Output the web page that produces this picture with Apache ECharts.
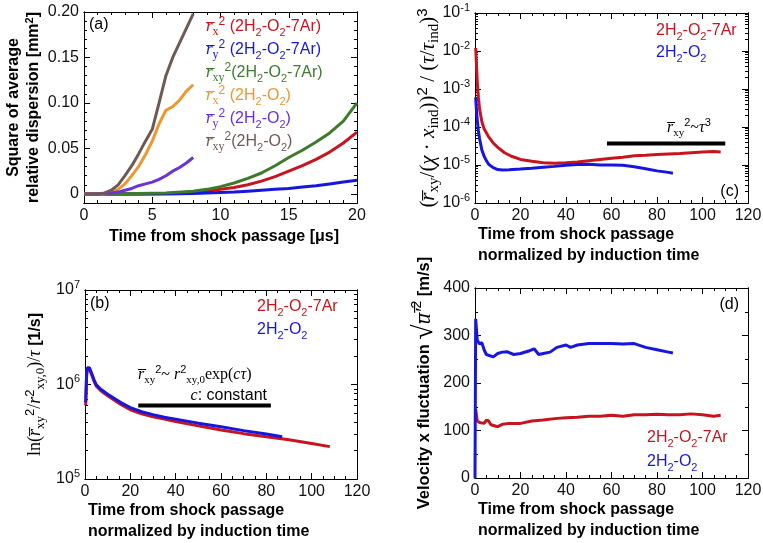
<!DOCTYPE html>
<html><head><meta charset="utf-8">
<script src="https://cdn.jsdelivr.net/npm/echarts@6/dist/echarts.min.js"></script>
<style>html,body{margin:0;padding:0;background:#fff}#c{width:763px;height:543px}</style>
</head><body><div id="c"></div>
<script>
// ---------------- DATA ----------------
// Panel (a): square of average relative dispersion [mm^2] vs time [us]
const tA_O2   = [0, 1, 1.5, 2, 2.5, 3, 3.5, 4, 4.5, 5, 5.5, 6, 6.5, 7, 7.5, 8];
const rxyA_O2 = [0, 0, 0.001, 0.004, 0.01, 0.02, 0.031, 0.044, 0.058, 0.071, 0.1, 0.13, 0.15, 0.166, 0.182, 0.198];
const rxA_O2  = [0, 0, 0, 0.002, 0.005, 0.011, 0.02, 0.03, 0.043, 0.058, 0.077, 0.092, 0.096, 0.103, 0.113, 0.12];
const ryA_O2  = [0, 0, 0.0005, 0.001, 0.002, 0.004, 0.006, 0.009, 0.011, 0.013, 0.016, 0.02, 0.025, 0.029, 0.034, 0.04];
const tA_Ar   = [0, 2, 4, 6, 8, 9, 10, 11, 12, 13, 14, 15, 16, 17, 18, 19, 20];
const rxyA_Ar = [0, 0, 0.0005, 0.001, 0.003, 0.005, 0.008, 0.012, 0.017, 0.023, 0.031, 0.04, 0.048, 0.057, 0.067, 0.08, 0.1];
const rxA_Ar  = [0, 0, 0, 0.0005, 0.002, 0.003, 0.005, 0.007, 0.01, 0.014, 0.019, 0.025, 0.031, 0.038, 0.046, 0.056, 0.068];
const ryA_Ar  = [0, 0, 0, 0, 0.0005, 0.001, 0.0015, 0.002, 0.003, 0.004, 0.005, 0.006, 0.0075, 0.009, 0.011, 0.013, 0.015];

// Panel (c): normalized dispersion / (tau/tau_ind)^3 (log)
const tC_Ar = [0.3, 0.6, 1, 1.5, 2, 3, 4, 6, 8, 10, 13, 16, 20, 25, 30, 35, 40, 45, 50, 55, 60, 65, 70, 75, 80, 85, 90, 95, 100, 105, 108];
const cAr   = [1.2e-2, 5e-3, 1.5e-3, 6e-4, 3e-4, 1.4e-4, 9e-5, 5.5e-5, 3.8e-5, 2.9e-5, 2.1e-5, 1.7e-5, 1.4e-5, 1.25e-5, 1.15e-5, 1.12e-5, 1.15e-5, 1.2e-5, 1.3e-5, 1.4e-5, 1.5e-5, 1.6e-5, 1.75e-5, 1.8e-5, 1.9e-5, 1.95e-5, 2.0e-5, 2.1e-5, 2.2e-5, 2.25e-5, 2.2e-5];
const tC_O2 = [0.3, 0.6, 1, 1.5, 2, 3, 4, 5, 6, 8, 10, 12, 15, 20, 25, 30, 35, 40, 45, 50, 55, 60, 65, 70, 75, 80, 85, 87];
const cO2   = [6e-4, 3e-4, 1.5e-4, 8e-5, 5e-5, 2.5e-5, 1.7e-5, 1.3e-5, 1.05e-5, 8.5e-6, 7.6e-6, 7.4e-6, 7.5e-6, 7.8e-6, 8.2e-6, 8.7e-6, 9.2e-6, 9.8e-6, 1.03e-5, 1.05e-5, 1.0e-5, 1.0e-5, 9.8e-6, 9.0e-6, 8.0e-6, 7.0e-6, 6.4e-6, 6.1e-6];
const cFitT = [58, 110];
const cFitV = [3.7e-5, 3.7e-5];

// Panel (b): ln(rxy^2/rxy0^2)/tau [1/s] (log)
const tB_Ar = [0.3, 0.7, 1, 1.5, 2, 3, 4, 5, 7, 10, 13, 16, 20, 25, 30, 35, 40, 50, 60, 70, 80, 90, 100, 108];
const bAr   = [6e5, 1.2e6, 1.45e6, 1.52e6, 1.45e6, 1.25e6, 1.08e6, 9.6e5, 8.6e5, 7.6e5, 6.8e5, 6.1e5, 5.4e5, 4.9e5, 4.55e5, 4.3e5, 4.05e5, 3.65e5, 3.3e5, 3.02e5, 2.8e5, 2.6e5, 2.38e5, 2.2e5];
const tB_O2 = [0.3, 0.7, 1, 1.5, 2, 3, 4, 5, 7, 10, 13, 16, 20, 25, 30, 35, 40, 50, 60, 70, 80, 87];
const bO2   = [6.5e5, 1.3e6, 1.5e6, 1.57e6, 1.5e6, 1.3e6, 1.12e6, 9.9e5, 8.9e5, 7.9e5, 7.1e5, 6.4e5, 5.7e5, 5.15e5, 4.8e5, 4.5e5, 4.3e5, 3.9e5, 3.57e5, 3.25e5, 3.0e5, 2.8e5];
const bFitT = [23.5, 82];
const bFitV = [6e5, 6e5];

// Panel (d): velocity x fluctuation [m/s]
const tD_O2 = [0, 0.3, 1, 2, 3, 4, 5, 8, 10, 12, 14, 17, 20, 24, 26, 28, 30, 33, 36, 40, 42, 45, 50, 55, 60, 65, 70, 75, 80, 85, 87];
const dO2   = [0, 335, 290, 282, 285, 270, 260, 255, 262, 265, 266, 260, 262, 268, 272, 260, 262, 265, 275, 280, 275, 280, 283, 283, 283, 282, 283, 275, 270, 265, 263];
const tD_Ar = [0.3, 1, 2, 4, 5, 6, 7, 10, 12, 15, 20, 25, 30, 35, 40, 45, 50, 55, 60, 65, 70, 75, 80, 85, 90, 95, 100, 105, 108];
const dAr   = [145, 120, 117, 115, 122, 120, 112, 108, 113, 115, 115, 120, 122, 125, 127, 128, 130, 130, 132, 130, 133, 133, 134, 133, 133, 135, 133, 130, 132];

// Tick labels
const aXTicks = [0, 5, 10, 15, 20];
const aYTicks = [0, 0.05, 0.10, 0.15, 0.20];
const nXTicks = [0, 20, 40, 60, 80, 100, 120];
const dYTicks = [0, 100, 200, 300, 400];

// ---------------- STYLE ----------------
const SANS = "'Liberation Sans', Arial, Helvetica, sans-serif";
const SERIF = "'Liberation Serif', 'DejaVu Serif', serif";
const OL = '\u0305';
const RED = '#c8141e', BLUE = '#1616e0', GREEN = '#3d7a2c', ORANGE = '#f0962e', PURPLE = '#6a32d8', BROWN = '#6e5a55';

function rich(p, color, bold, big) {
  const w = bold ? 'bold' : 'normal';
  const F = big || 17, S = Math.round(F * 0.7), L = Math.round(F * 1.3);
  const r = {};
  r[p + 't']  = {color, fontFamily: SANS, fontSize: 16, fontWeight: w, lineHeight: L};
  r[p + 'ts'] = {color, fontFamily: SANS, fontSize: 11, fontWeight: w, lineHeight: 12, verticalAlign: 'bottom'};
  r[p + 'n']  = {color, fontFamily: SERIF, fontSize: F, fontWeight: 'normal', lineHeight: L};
  r[p + 'r']  = {color, fontFamily: SERIF, fontSize: F + 4, fontWeight: 'normal', lineHeight: L};
  r[p + 'm']  = {color, fontFamily: SERIF, fontStyle: 'italic', fontSize: F, fontWeight: 'normal', lineHeight: L};
  r[p + 's']  = {color, fontFamily: SERIF, fontSize: S, fontWeight: 'normal', lineHeight: S, verticalAlign: 'bottom'};
  r[p + 'p']  = {color, fontFamily: SANS, fontSize: S, fontWeight: 'normal', lineHeight: S, verticalAlign: 'top'};
  return r;
}
const toZr = r => Object.fromEntries(Object.entries(r).map(([k, v]) => {
  const o = Object.assign({}, v); o.fill = o.color; delete o.color; return [k, o];
}));

function gas(p, ar) {
  return `{${p}t|2H}{${p}ts|2}{${p}t|-O}{${p}ts|2}` + (ar ? `{${p}t|-7Ar}` : '');
}
function dispLabel(p, sub, ar, sp) {
  return `{${p}m|r${OL}}{${p}s|${sub}}{${p}p|2}{${p}t|${sp}(}` + gas(p, ar) + `{${p}t|)}`;
}

const LEG_A = {
  'rx² (2H2-O2-7Ar)':  dispLabel('R', 'x', true, ' '),
  'ry² (2H2-O2-7Ar)':  dispLabel('B', 'y', true, ' '),
  'rxy² (2H2-O2-7Ar)': dispLabel('G', 'xy', true, ''),
  'rx² (2H2-O2)':      dispLabel('O', 'x', false, ' '),
  'ry² (2H2-O2)':      dispLabel('P', 'y', false, ' '),
  'rxy² (2H2-O2)':     dispLabel('N', 'xy', false, '')
};
const NAME_AR = '2H2-O2-7Ar', NAME_O2 = '2H2-O2';
const LEG_N = {[NAME_AR]: gas('R', true), [NAME_O2]: gas('B', false)};
const RICH_ALL = Object.assign({}, rich('R', RED), rich('B', BLUE), rich('G', GREEN), rich('O', ORANGE), rich('P', PURPLE), rich('N', BROWN));

// ---------------- LAYOUT ----------------
const grids = [
  {left: 84,  top: 12,  width: 273, height: 191}, // a
  {left: 475, top: 13,  width: 273, height: 190}, // c
  {left: 85,  top: 290, width: 272, height: 189}, // b
  {left: 475, top: 288, width: 273, height: 190}  // d
].map(g => Object.assign({containLabel: false, outerBoundsMode: 'none'}, g));

const xAxes = [], yAxes = [];
const LBL = {show: true, color: '#111', fontFamily: SANS, fontSize: 16};
function mkAxis(grid, pos, scale, ticks, len, label) {
  const ax = Object.assign({
    gridIndex: grid, position: pos, silent: true,
    axisLine: {show: true, onZero: false, lineStyle: {color: '#000', width: 1}},
    axisTick: {show: true, inside: true, length: len, lineStyle: {color: '#000', width: 1}},
    axisLabel: {show: false},
    splitLine: {show: false},
    axisPointer: {show: false}
  }, scale);
  if (ticks) ax.axisTick.customValues = ticks;
  if (label) { ax.axisLabel = Object.assign({}, LBL, label); if (ticks) ax.axisLabel.customValues = ticks; }
  return ax;
}
function minorVals(a, b, step, majors) {
  const out = [];
  for (let i = Math.round(a / step); i <= Math.round(b / step); i++) {
    const v = +(i * step).toFixed(6);
    if (!majors.some(m => Math.abs(m - v) < step / 10)) out.push(v);
  }
  return out;
}
function logMinor(e0, e1) {
  const out = [];
  for (let e = e0; e < e1; e++) for (let k = 2; k <= 9; k++) out.push(e + Math.log10(k));
  return out;
}
function linPair(arr, grid, pos, min, max, majors, minors, label, extra) {
  const major = mkAxis(grid, pos, {type: 'value', min, max}, majors, 6, label);
  Object.assign(major, extra || {});
  arr.push(major);
  const idx = arr.length - 1;
  arr.push(mkAxis(grid, pos, {type: 'value', min, max}, minors, 3, null));
  return idx;
}
function logPair(arr, grid, pos, e0, e1, label, extra) {
  const major = mkAxis(grid, pos, {type: 'log', logBase: 10, min: Math.pow(10, e0), max: Math.pow(10, e1)}, null, 6, label);
  Object.assign(major, extra || {});
  arr.push(major);
  const idx = arr.length - 1;
  arr.push(mkAxis(grid, pos, {type: 'value', min: e0, max: e1}, logMinor(e0, e1), 3, null));
  return idx;
}
const sup10 = v => '10{sup|' + Math.round(Math.log10(v)) + '}';
const LOGLBL = {formatter: sup10, margin: 5, rich: {sup: {fontFamily: SANS, fontSize: 11, color: '#111', verticalAlign: 'top', lineHeight: 11}}, lineHeight: 22};
const XNAME2 = 'Time from shock passage\nnormalized by induction time';
const xName2 = {
  name: XNAME2, nameLocation: 'start', nameGap: -3, nameMoveOverlap: false,
  nameTextStyle: {fontFamily: SANS, fontSize: 16, fontWeight: 'bold', color: '#000', align: 'left', verticalAlign: 'top', lineHeight: 21, padding: [21, 0, 0, 0]}
};
const yNameStyle = {fontFamily: SANS, fontSize: 16, fontWeight: 'bold', color: '#000', lineHeight: 20};

// Panel a
const XA = linPair(xAxes, 0, 'bottom', 0, 20, aXTicks, minorVals(0, 20, 1, aXTicks), {margin: 5}, {
  name: 'Time from shock passage [μs]', nameLocation: 'middle', nameGap: 26, nameMoveOverlap: false,
  nameTextStyle: {fontFamily: SANS, fontSize: 16, fontWeight: 'bold', color: '#000', padding: [0, 0, 0, 7]}
});
linPair(xAxes, 0, 'top', 0, 20, aXTicks, minorVals(0, 20, 1, aXTicks), null);
const YA = linPair(yAxes, 0, 'left', -0.01, 0.2, aYTicks, minorVals(-0.01, 0.2, 0.01, aYTicks),
  {margin: 5, formatter: v => (v === 0 ? '0' : v.toFixed(2))}, {
  name: 'Square of average\nrelative dispersion [mm{sup|2}]', nameLocation: 'middle', nameRotate: 90, nameGap: 40, nameMoveOverlap: false,
  nameTextStyle: Object.assign({rich: {sup: {fontFamily: SANS, fontSize: 11, fontWeight: 'bold', color: '#000', verticalAlign: 'top', lineHeight: 11}}}, yNameStyle)
});
linPair(yAxes, 0, 'right', -0.01, 0.2, aYTicks, minorVals(-0.01, 0.2, 0.01, aYTicks), null);

// Panel c
const XC = linPair(xAxes, 1, 'bottom', 0, 120, nXTicks, minorVals(0, 120, 5, nXTicks), {margin: 5}, xName2);
linPair(xAxes, 1, 'top', 0, 120, nXTicks, minorVals(0, 120, 5, nXTicks), null);
const YC = logPair(yAxes, 1, 'left', -6, -1, LOGLBL, {
  name: `{Kn|(}{Km|r${OL}}{Ks|xy}{Kn|/(}{Km|χ}{Kn| · }{Km|x}{Ks|ind}{Kn|))}{Kp|2}{Kn| / (}{Km|τ}{Kn|/}{Km|τ}{Ks|ind}{Kn|)}{Kp|3}`,
  nameLocation: 'middle', nameRotate: 90, nameGap: 33, nameMoveOverlap: false,
  nameTextStyle: Object.assign({}, yNameStyle, {fontWeight: 'normal', rich: rich('K', '#000', false, 21)})
});
logPair(yAxes, 1, 'right', -6, -1, null);

// Panel b
const XB = linPair(xAxes, 2, 'bottom', 0, 120, nXTicks, minorVals(0, 120, 5, nXTicks), {margin: 5}, xName2);
linPair(xAxes, 2, 'top', 0, 120, nXTicks, minorVals(0, 120, 5, nXTicks), null);
const YB = logPair(yAxes, 2, 'left', 5, 7, LOGLBL, {
  name: `{Kn|ln(}{Km|r${OL}}{Ks|xy}{Kp|2}{Kn|/}{Km|r}{Kp|2}{Ks|xy,0}{Kn|)/}{Km|τ}{Kt| [1/s]}`,
  nameLocation: 'middle', nameRotate: 90, nameGap: 38, nameMoveOverlap: false,
  nameTextStyle: Object.assign({}, yNameStyle, {rich: rich('K', '#000', true, 18)})
});
logPair(yAxes, 2, 'right', 5, 7, null);

// Panel d
const RICH_D = rich('K', '#000', true, 22);
RICH_D.Kt.fontSize = 16.5;
RICH_D.Kr.fontSize = 28;
RICH_D.Kp.fontSize = 14;
const XD = linPair(xAxes, 3, 'bottom', 0, 120, nXTicks, minorVals(0, 120, 5, nXTicks), {margin: 5}, xName2);
linPair(xAxes, 3, 'top', 0, 120, nXTicks, minorVals(0, 120, 5, nXTicks), null);
const YD = linPair(yAxes, 3, 'left', 0, 400, dYTicks, minorVals(0, 400, 50, dYTicks), {margin: 5}, {
  name: `{Kt|Velocity x fluctuation }{Kr|√}{Km|u${OL}′${OL}}{Kp|2}{Kt| [m/s]}`,
  nameLocation: 'middle', nameRotate: 90, nameGap: 36, nameMoveOverlap: false,
  nameTextStyle: Object.assign({}, yNameStyle, {rich: RICH_D})
});
linPair(yAxes, 3, 'right', 0, 400, dYTicks, minorVals(0, 400, 50, dYTicks), null);

// ---------------- SERIES ----------------
function line(name, xs, ys, color, xi, yi, w) {
  return {
    type: 'line', name, xAxisIndex: xi, yAxisIndex: yi,
    data: xs.map((x, i) => [x, ys[i]]),
    showSymbol: false, symbol: 'none', animation: false, silent: true,
    lineStyle: {color, width: w || 3}, itemStyle: {color}
  };
}
const series = [
  line('rx² (2H2-O2-7Ar)', tA_Ar, rxA_Ar, RED, XA, YA),
  line('ry² (2H2-O2-7Ar)', tA_Ar, ryA_Ar, BLUE, XA, YA),
  line('rxy² (2H2-O2-7Ar)', tA_Ar, rxyA_Ar, GREEN, XA, YA),
  line('rx² (2H2-O2)', tA_O2, rxA_O2, ORANGE, XA, YA),
  line('ry² (2H2-O2)', tA_O2, ryA_O2, PURPLE, XA, YA),
  line('rxy² (2H2-O2)', tA_O2, rxyA_O2, BROWN, XA, YA),
  line(NAME_AR, tC_Ar, cAr, RED, XC, YC),
  line(NAME_O2, tC_O2, cO2, BLUE, XC, YC),
  line('fit c', cFitT, cFitV, '#000', XC, YC, 4),
  line(NAME_AR, tB_Ar, bAr, RED, XB, YB),
  line(NAME_O2, tB_O2, bO2, BLUE, XB, YB),
  line('fit b', bFitT, bFitV, '#000', XB, YB, 4),
  line(NAME_AR, tD_Ar, dAr, RED, XD, YD),
  line(NAME_O2, tD_O2, dO2, BLUE, XD, YD)
];

// ---------------- LEGENDS ----------------
function legend(left, top, names, fmt, gap) {
  return {
    left, top, orient: 'vertical', padding: 0, itemGap: gap, itemWidth: 0, itemHeight: 0,
    icon: 'none', selectedMode: false, itemStyle: {opacity: 0}, lineStyle: {opacity: 0},
    textStyle: {fontFamily: SANS, fontSize: 16, lineHeight: 22, rich: RICH_ALL},
    formatter: fmt, data: names
  };
}
const legends = [
  legend(201, 16, Object.keys(LEG_A), n => LEG_A[n], 1),
  legend(651, 20, [NAME_AR, NAME_O2], n => LEG_N[n], 0),
  legend(252, 296, [NAME_AR, NAME_O2], n => LEG_N[n], 1),
  legend(642, 427, [NAME_AR, NAME_O2], n => LEG_N[n], 2)
];

// ---------------- ANNOTATIONS ----------------
const ZK = toZr(rich('K', '#000', false, 16));
function txt(x, y, text, align, richStyle) {
  return {type: 'text', x, y, silent: true, z: 10,
    style: {text, fill: '#000', fontFamily: SANS, fontSize: 16, align: align || 'left', verticalAlign: 'middle', rich: richStyle}};
}
const graphic = [
  txt(89, 25, '(a)'),
  txt(90, 304, '(b)'),
  txt(739, 192, '(c)', 'right'),
  txt(739, 305, '(d)', 'right'),
  txt(667, 128, `{Km|r${OL}}{Ks|xy}{Kp|2}{Kn|~}{Km|τ}{Kp|3}`, 'left', ZK),
  txt(138, 375, `{Km|r${OL}}{Ks|xy}{Kp|2}{Kn|~ }{Km|r}{Kp|2}{Ks|xy,0}{Kn|exp(}{Km|cτ}{Kn|)}`, 'left', ZK),
  txt(267, 396, `{Km|c}{Kt|: constant}`, 'right', ZK)
];

const chart = echarts.init(document.getElementById('c'), null, {renderer: 'canvas'});
chart.setOption({
  animation: false,
  backgroundColor: '#fff',
  textStyle: {fontFamily: SANS},
  grid: grids,
  xAxis: xAxes,
  yAxis: yAxes,
  legend: legends,
  series,
  graphic
});
</script></body></html>
